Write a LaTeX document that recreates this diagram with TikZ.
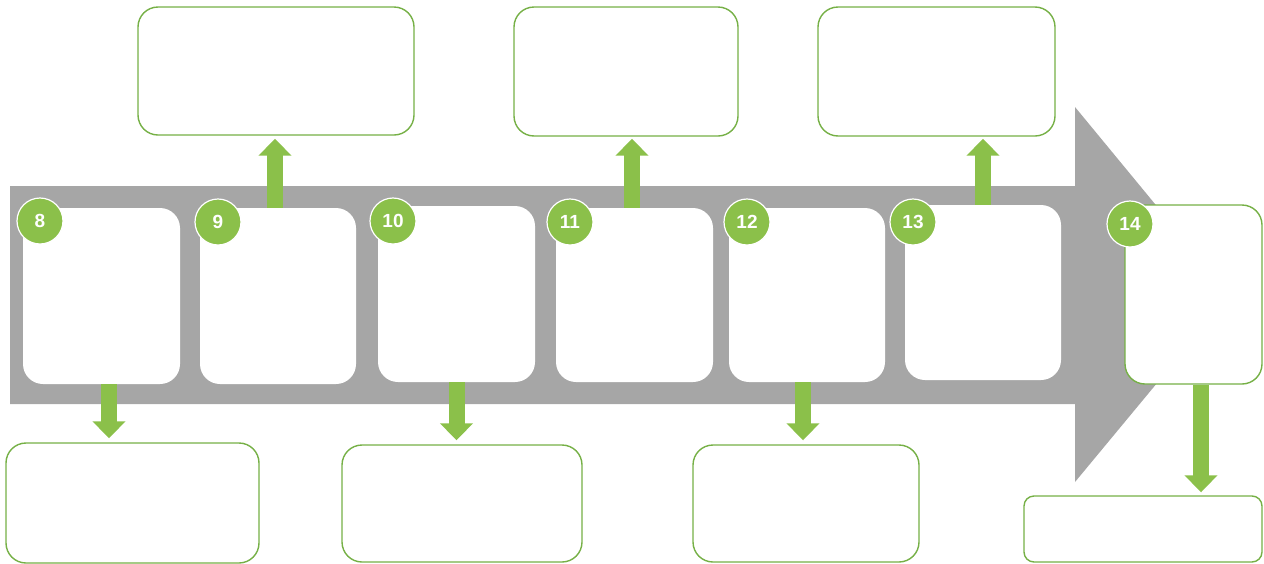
\documentclass[tikz,border=0pt]{standalone}
\usepackage{fontspec}
\setmainfont{Liberation Sans}
\usetikzlibrary{arrows.meta}
\definecolor{arrgray}{RGB}{166,166,166}
\definecolor{leaf}{RGB}{139,192,74}
\definecolor{edge}{RGB}{118,176,70}
\tikzset{
  inbox/.style={fill=white, draw=none, rounded corners=20pt, inner sep=0pt},
  outbox/.style={fill=white, draw=edge, line width=1.4pt, rounded corners=20pt, inner sep=0pt},
  numdot/.style={circle, fill=leaf, draw=white, line width=1.2pt, minimum size=46pt, inner sep=0pt,
    text=white, font=\fontsize{19}{19}\selectfont\bfseries},
  flow/.style={draw=leaf, line width=16pt, -{Triangle[width=32pt,length=17pt]}},
}
\begin{document}
\begin{tikzpicture}[x=1pt,y=-1pt]
\useasboundingbox (0,0) rectangle (1264,563);
% big gray arrow
\fill[arrgray] (10,186) -- (1075,186) -- (1075,107) -- (1230,295) -- (1075,482) -- (1075,404) -- (10,404) -- cycle;
% boxes on the arrow
\node[inbox, minimum width=157pt, minimum height=176pt] (b8)  at (101.5,296) {};
\node[inbox, minimum width=156pt, minimum height=176pt] (b9)  at (278,296) {};
\node[inbox, minimum width=157pt, minimum height=176pt] (b10) at (456.5,294) {};
\node[inbox, minimum width=157pt, minimum height=174pt] (b11) at (634.5,295) {};
\node[inbox, minimum width=156pt, minimum height=174pt] (b12) at (807,295) {};
\node[inbox, minimum width=156pt, minimum height=175pt] (b13) at (983,292.5) {};
\node[outbox, minimum width=137pt, minimum height=179pt] (b14) at (1193.5,294.5) {};
% outer boxes
\node[outbox, minimum width=276pt, minimum height=128pt] (tA) at (276,71) {};
\node[outbox, minimum width=224pt, minimum height=129pt] (tB) at (626,71.5) {};
\node[outbox, minimum width=237pt, minimum height=129pt] (tC) at (936.5,71.5) {};
\node[outbox, minimum width=253pt, minimum height=120pt] (dD) at (132.5,503) {};
\node[outbox, minimum width=240pt, minimum height=117pt] (dE) at (462,503.5) {};
\node[outbox, minimum width=226pt, minimum height=117pt] (dF) at (806,503.5) {};
\node[outbox, minimum width=238pt, minimum height=66pt, rounded corners=10pt] (dG) at (1143,529) {};
% green arrows
\draw[flow] ([xshift=-3pt]b9.north) -- ([xshift=-3pt,yshift=-3pt]b9.north |- tA.south);
\draw[flow] ([xshift=-2.5pt]b11.north) -- ([xshift=-2.5pt,yshift=-2pt]b11.north |- tB.south);
\draw[flow] (b13.north) -- ([yshift=-2pt]b13.north |- tC.south);
\draw[flow] ([xshift=7.5pt]b8.south) -- ([xshift=7.5pt,yshift=4pt]b8.south |- dD.north);
\draw[flow] (b10.south) -- ([yshift=4pt]b10.south |- dE.north);
\draw[flow] ([xshift=-4pt]b12.south) -- ([xshift=-4pt,yshift=4pt]b12.south |- dF.north);
\draw[flow] ([xshift=7.5pt]b14.south) -- ([xshift=7.5pt,yshift=3pt]b14.south |- dG.north);
% redraw box outlines above arrows
% number dots
\node[numdot] (n8)  at (40,221) {8};
\node[numdot] (n9)  at (218,222) {9};
\node[numdot] (n10) at (393,221) {10};
\node[numdot] (n11) at (570,222) {11};
\node[numdot] (n12) at (747,222) {12};
\node[numdot] (n13) at (913,222) {13};
\node[numdot] (n14) at (1130,224) {14};
\end{tikzpicture}
\end{document}
